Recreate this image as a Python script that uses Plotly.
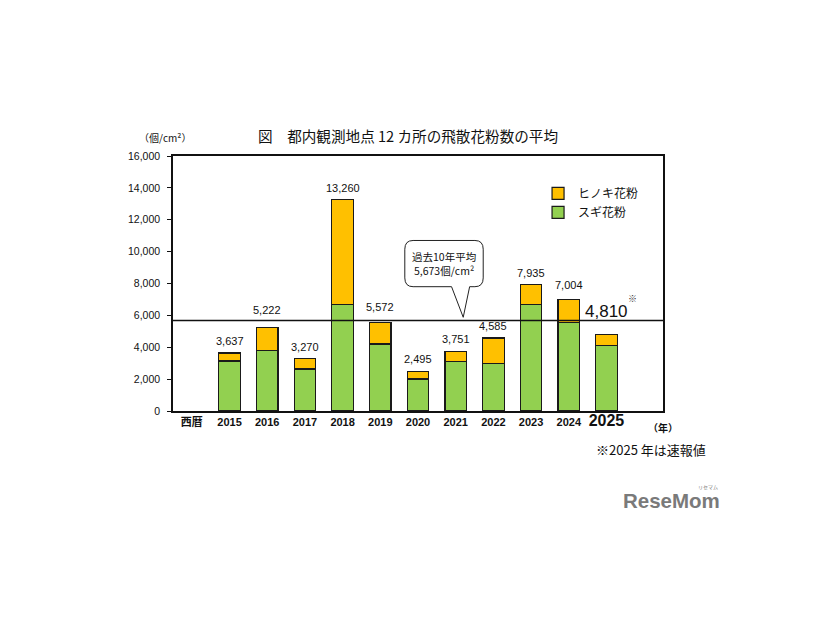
import plotly.graph_objects as go

# ---- data ----
categories = ["西暦", "2015", "2016", "2017", "2018", "2019", "2020", "2021", "2022", "2023", "2024", "2025"]
years = ["2015", "2016", "2017", "2018", "2019", "2020", "2021", "2022", "2023", "2024", "2025"]
totals = [3637, 5222, 3270, 13260, 5572, 2495, 3751, 4585, 7935, 7004, 4810]
sugi = [3135, 3805, 2635, 6705, 4200, 2005, 3090, 2990, 6690, 5530, 4135]
hinoki = [t - s for t, s in zip(totals, sugi)]
average_10y = 5673
y_ticks = [0, 2000, 4000, 6000, 8000, 10000, 12000, 14000, 16000]

FONT = "Liberation Sans, Noto Sans CJK JP, sans-serif"
JP = "Noto Sans CJK JP, sans-serif"
YELLOW = "#FFC000"
GREEN = "#92D050"
EDGE = "#1a1a1a"

# plot-area geometry in page pixels (page has an 8px body margin)
PL, PR, PT, PB = 173, 663, 156, 411
W, H = 810, 604
PW, PH = PR - PL, PB - PT


def px(xp):
    return (xp - PL) / PW


def py(yp):
    return (PB - yp) / PH


# label nudges (pixels) for labels lifted clear of the average line
label_lift = {"2016": 10, "2019": 7, "2024": 6}

xpos = [categories.index(y) for y in years]

fig = go.Figure()
fig.add_trace(go.Bar(x=xpos, y=sugi, name="スギ花粉", marker=dict(color=GREEN, line=dict(color=EDGE, width=1.2)),
                     legendrank=2, hoverinfo="skip"))
fig.add_trace(go.Bar(x=xpos, y=hinoki, name="ヒノキ花粉", marker=dict(color=YELLOW, line=dict(color=EDGE, width=1.2)),
                     legendrank=1, hoverinfo="skip"))

ticktext = []
for c in categories:
    if c == "2025":
        ticktext.append("<span style='font-size:16px'><b>2025</b></span>")
    else:
        ticktext.append("<b>" + c + "</b>")

annotations = []
# value labels above bars
for x, y, t in zip(xpos, totals, years):
    if t == "2025":
        continue
    annotations.append(dict(x=x, y=y, xref="x", yref="y", text=f"{y:,}", showarrow=False,
                            xanchor="center", yanchor="bottom", yshift=label_lift.get(t, 4),
                            font=dict(family=FONT, size=11, color="#111")))
# 2025 special label
annotations.append(dict(x=xpos[-1], y=totals[-1], xref="x", yref="y", text=f"{totals[-1]:,}", showarrow=False,
                        xanchor="center", yanchor="bottom", yshift=11, font=dict(family=FONT, size=17, color="#111")))
annotations.append(dict(x=xpos[-1] + 0.68, y=totals[-1], xref="x", yref="y", text="※", showarrow=False,
                        xanchor="center", yanchor="bottom", yshift=27, font=dict(family=JP, size=9, color="#333")))
# callout text
annotations.append(dict(x=6.69, y=9250, xref="x", yref="y",
                        text="過去10年平均<br>5,673個/cm²", showarrow=False,
                        xanchor="center", yanchor="middle",
                        font=dict(family=JP, size=10.5, color="#111"), align="center"))
# units label
annotations.append(dict(x=px(165), y=py(137), xref="paper", yref="paper", text="（個/cm²）",
                        showarrow=False, xanchor="center", yanchor="middle",
                        font=dict(family=JP, size=10, color="#111")))
# (年)
annotations.append(dict(x=px(663), y=0, xref="paper", yref="paper", text="<b>（年）</b>", showarrow=False,
                        xanchor="center", yanchor="middle", yshift=-16,
                        font=dict(family=JP, size=10, color="#111")))
# footnote
annotations.append(dict(x=px(594), y=0, xref="paper", yref="paper", text="※2025 年は速報値", showarrow=False,
                        xanchor="left", yanchor="middle", yshift=-38,
                        font=dict(family=JP, size=13, color="#111")))
# logo
annotations.append(dict(x=px(671), y=0, xref="paper", yref="paper", text="<b>ReseMom</b>", showarrow=False,
                        xanchor="center", yanchor="middle", yshift=-89,
                        font=dict(family="Liberation Sans, sans-serif", size=20.5, color="#7a7a7a")))
annotations.append(dict(x=px(708), y=0, xref="paper", yref="paper", text="リセマム", showarrow=False,
                        xanchor="center", yanchor="middle", yshift=-76,
                        font=dict(family=JP, size=5, color="#7a7a7a")))

# callout shape (rounded box with pointer)
x0, x1, y0, y1 = 5.65, 7.73, 7800, 10700
rx, ry = 0.22, 550
bx0, bx1, tipx, tipy = 6.89, 7.37, 7.2, 5880
callout = (f"M {x0+rx},{y1} L {x1-rx},{y1} Q {x1},{y1} {x1},{y1-ry} L {x1},{y0+ry} Q {x1},{y0} {x1-rx},{y0} "
           f"L {bx1},{y0} L {tipx},{tipy} L {bx0},{y0} L {x0+rx},{y0} Q {x0},{y0} {x0},{y0+ry} "
           f"L {x0},{y1-ry} Q {x0},{y1} {x0+rx},{y1} Z")

shapes = [
    dict(type="line", xref="paper", yref="y", x0=0, x1=1, y0=average_10y, y1=average_10y,
         line=dict(color="#111", width=1.5), layer="above"),
    dict(type="path", xref="x", yref="y", path=callout, fillcolor="white",
         line=dict(color="#222", width=1), layer="above"),
]

fig.update_layout(
    width=W, height=H,
    margin=dict(l=PL - 8, r=W - (PR - 8), t=PT - 8, b=H - (PB - 8), pad=0),
    paper_bgcolor="white", plot_bgcolor="white",
    barmode="stack", bargap=0.43,
    showlegend=True,
    legend=dict(x=0.745, y=0.91, xanchor="left", yanchor="top", traceorder="normal",
                bgcolor="rgba(0,0,0,0)", tracegroupgap=6,
                font=dict(family=JP, size=12, color="#111")),
    title=dict(text="図　都内観測地点 12 カ所の飛散花粉数の平均", x=(408 - 8) / W, xanchor="center",
               y=1 - (137 - 8) / H, yanchor="middle", font=dict(family=JP, size=14.6, color="#111")),
    xaxis=dict(range=[-0.5, 12.5], tickvals=list(range(len(categories))), ticktext=ticktext,
               showline=True, linecolor="#111", linewidth=1.5, mirror=True, ticks="",
               showgrid=False, zeroline=False, tickfont=dict(family=FONT, size=11, color="#111")),
    yaxis=dict(range=[0, 16000], tickvals=y_ticks, tickformat=",", showline=True, linecolor="#111",
               linewidth=1.5, mirror=True, ticks="outside", ticklen=4, tickcolor="#111",
               ticklabelstandoff=5,
               showgrid=False, zeroline=False, tickfont=dict(family=FONT, size=10.5, color="#111")),
    annotations=annotations,
    shapes=shapes,
)

fig.write_html("out.html")
